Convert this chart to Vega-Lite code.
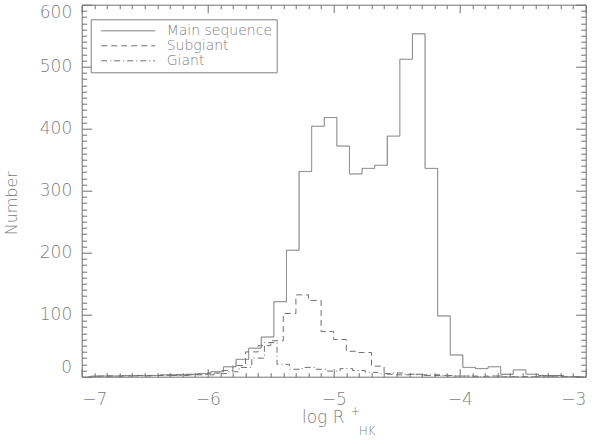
{
  "$schema": "https://vega.github.io/schema/vega-lite/v6.json",
  "width": 504,
  "height": 372,
  "autosize": {"type": "none"},
  "padding": {"left": 81.7, "top": 4.7, "right": 14.3, "bottom": 67.3},
  "background": "white",
  "config": {
    "view": {"stroke": "#707070", "strokeWidth": 1},
    "axis": {
      "domain": false, "grid": false, "labelOverlap": false,
      "labelFont": "DejaVu Sans", "titleFont": "DejaVu Sans",
      "labelColor": "#808080", "titleColor": "#808080", "tickColor": "#707070",
      "labelFontWeight": 200, "titleFontWeight": 200, "tickWidth": 1
    }
  },
  "data": {"values": [
    {"s":"Main sequence","x":-6.925,"n":1},{"s":"Main sequence","x":-6.825,"n":1},{"s":"Main sequence","x":-6.725,"n":1},{"s":"Main sequence","x":-6.625,"n":2},{"s":"Main sequence","x":-6.525,"n":2},{"s":"Main sequence","x":-6.425,"n":2},{"s":"Main sequence","x":-6.325,"n":3},{"s":"Main sequence","x":-6.225,"n":3},{"s":"Main sequence","x":-6.125,"n":4},{"s":"Main sequence","x":-6.025,"n":5},
    {"s":"Main sequence","x":-5.925,"n":8},{"s":"Main sequence","x":-5.825,"n":16},{"s":"Main sequence","x":-5.725,"n":28},{"s":"Main sequence","x":-5.625,"n":46},{"s":"Main sequence","x":-5.525,"n":64},{"s":"Main sequence","x":-5.425,"n":121},{"s":"Main sequence","x":-5.325,"n":204},{"s":"Main sequence","x":-5.225,"n":331},{"s":"Main sequence","x":-5.125,"n":404},{"s":"Main sequence","x":-5.025,"n":418},
    {"s":"Main sequence","x":-4.925,"n":372},{"s":"Main sequence","x":-4.825,"n":327},{"s":"Main sequence","x":-4.725,"n":336},{"s":"Main sequence","x":-4.625,"n":341},{"s":"Main sequence","x":-4.525,"n":388},{"s":"Main sequence","x":-4.425,"n":512},{"s":"Main sequence","x":-4.325,"n":553},{"s":"Main sequence","x":-4.225,"n":336},{"s":"Main sequence","x":-4.125,"n":98},{"s":"Main sequence","x":-4.025,"n":35},
    {"s":"Main sequence","x":-3.925,"n":15},{"s":"Main sequence","x":-3.825,"n":13},{"s":"Main sequence","x":-3.725,"n":16},{"s":"Main sequence","x":-3.625,"n":4},{"s":"Main sequence","x":-3.525,"n":11},{"s":"Main sequence","x":-3.425,"n":4},{"s":"Main sequence","x":-3.325,"n":2},{"s":"Main sequence","x":-3.225,"n":2},{"s":"Main sequence","x":-3.125,"n":0},{"s":"Main sequence","x":-3.025,"n":0},
    {"s":"Subgiant","x":-6.95,"n":0},{"s":"Subgiant","x":-6.85,"n":1},{"s":"Subgiant","x":-6.75,"n":1},{"s":"Subgiant","x":-6.65,"n":1},{"s":"Subgiant","x":-6.55,"n":2},{"s":"Subgiant","x":-6.45,"n":2},{"s":"Subgiant","x":-6.35,"n":2},{"s":"Subgiant","x":-6.25,"n":3},{"s":"Subgiant","x":-6.15,"n":3},{"s":"Subgiant","x":-6.05,"n":4},
    {"s":"Subgiant","x":-5.95,"n":6},{"s":"Subgiant","x":-5.85,"n":10},{"s":"Subgiant","x":-5.75,"n":18},{"s":"Subgiant","x":-5.65,"n":40},{"s":"Subgiant","x":-5.55,"n":50},{"s":"Subgiant","x":-5.45,"n":58},{"s":"Subgiant","x":-5.35,"n":102},{"s":"Subgiant","x":-5.25,"n":132},{"s":"Subgiant","x":-5.15,"n":123},{"s":"Subgiant","x":-5.05,"n":73},
    {"s":"Subgiant","x":-4.95,"n":60},{"s":"Subgiant","x":-4.85,"n":41},{"s":"Subgiant","x":-4.75,"n":39},{"s":"Subgiant","x":-4.65,"n":17},{"s":"Subgiant","x":-4.55,"n":4},{"s":"Subgiant","x":-4.45,"n":3},{"s":"Subgiant","x":-4.35,"n":4},{"s":"Subgiant","x":-4.25,"n":2},{"s":"Subgiant","x":-4.15,"n":2},{"s":"Subgiant","x":-4.05,"n":1},
    {"s":"Subgiant","x":-3.95,"n":1},{"s":"Subgiant","x":-3.85,"n":0},{"s":"Subgiant","x":-3.75,"n":1},{"s":"Subgiant","x":-3.65,"n":0},{"s":"Subgiant","x":-3.55,"n":0},{"s":"Subgiant","x":-3.45,"n":0},{"s":"Subgiant","x":-3.35,"n":0},{"s":"Subgiant","x":-3.25,"n":0},{"s":"Subgiant","x":-3.15,"n":0},{"s":"Subgiant","x":-3.05,"n":0},
    {"s":"Giant","x":-6.9,"n":0},{"s":"Giant","x":-6.8,"n":1},{"s":"Giant","x":-6.7,"n":1},{"s":"Giant","x":-6.6,"n":1},{"s":"Giant","x":-6.5,"n":1},{"s":"Giant","x":-6.4,"n":2},{"s":"Giant","x":-6.3,"n":2},{"s":"Giant","x":-6.2,"n":2},{"s":"Giant","x":-6.1,"n":3},{"s":"Giant","x":-6.0,"n":3},
    {"s":"Giant","x":-5.9,"n":5},{"s":"Giant","x":-5.8,"n":8},{"s":"Giant","x":-5.7,"n":15},{"s":"Giant","x":-5.6,"n":30},{"s":"Giant","x":-5.5,"n":55},{"s":"Giant","x":-5.4,"n":20},{"s":"Giant","x":-5.3,"n":12},{"s":"Giant","x":-5.2,"n":15},{"s":"Giant","x":-5.1,"n":12},{"s":"Giant","x":-5.0,"n":9},
    {"s":"Giant","x":-4.9,"n":13},{"s":"Giant","x":-4.8,"n":10},{"s":"Giant","x":-4.7,"n":7},{"s":"Giant","x":-4.6,"n":5},{"s":"Giant","x":-4.5,"n":6},{"s":"Giant","x":-4.4,"n":4},{"s":"Giant","x":-4.3,"n":3},{"s":"Giant","x":-4.2,"n":3},{"s":"Giant","x":-4.1,"n":2},{"s":"Giant","x":-4.0,"n":1},
    {"s":"Giant","x":-3.9,"n":1},{"s":"Giant","x":-3.8,"n":0},{"s":"Giant","x":-3.7,"n":1},{"s":"Giant","x":-3.6,"n":0},{"s":"Giant","x":-3.5,"n":0},{"s":"Giant","x":-3.4,"n":0},{"s":"Giant","x":-3.3,"n":0},{"s":"Giant","x":-3.2,"n":0},{"s":"Giant","x":-3.1,"n":0},{"s":"Giant","x":-3.0,"n":0}
  ]},
  "layer": [
    {
      "mark": {"type": "line", "interpolate": "step", "clip": true, "color": "#707070", "strokeWidth": 1},
      "encoding": {
        "x": {"field": "x", "type": "quantitative", "scale": {"domain": [-7, -3], "nice": false, "zero": false},
          "axis": {"orient": "bottom", "ticks": false, "values": [-7, -6, -5, -4, -3], "labelPadding": 15, "labelFontSize": 17,
            "title": "log R", "titleFontSize": 17, "titleX": 241, "titleY": 41, "titleAlign": "center", "titleBaseline": "middle"}},
        "y": {"field": "n", "type": "quantitative", "scale": {"domain": [0, 600], "nice": false},
          "axis": {"orient": "left", "ticks": false, "values": [0, 100, 200, 300, 400, 500, 600], "labelPadding": 10, "labelFlush": true, "labelFontSize": 17,
            "title": "Number", "titleFontSize": 16, "titleX": -70, "titleY": 198, "titleAngle": -90, "titleAlign": "center", "titleBaseline": "middle"}},
        "strokeDash": {"field": "s", "type": "nominal",
          "scale": {"domain": ["Main sequence", "Subgiant", "Giant"], "range": [[1, 0], [6, 4], [6, 3, 1, 3]]},
          "legend": {"title": null, "orient": "none", "legendX": 9, "legendY": 14.6, "strokeColor": "#808080", "padding": 4,
            "symbolType": "M-4,0H4", "symbolSize": 182, "symbolStrokeColor": "#707070", "symbolStrokeWidth": 1, "symbolFillColor": "transparent",
            "symbolOffset": 26, "labelOffset": 31, "rowPadding": 0,
            "labelFont": "DejaVu Sans", "labelFontSize": 14, "labelColor": "#808080", "labelFontWeight": 200, "fillColor": "white"}}
      }
    },
    {
      "mark": {"type": "point", "opacity": 0},
      "encoding": {
        "x": {"field": "x", "type": "quantitative", "scale": {"domain": [-7, -3], "nice": false, "zero": false},
          "axis": {"orient": "bottom", "labels": false, "tickSize": -8, "values": [-7, -6, -5, -4, -3],
            "title": "+", "titleFontSize": 12, "titleX": 273, "titleY": 34, "titleAlign": "center", "titleBaseline": "middle"}},
        "y": {"field": "n", "type": "quantitative", "scale": {"domain": [0, 600], "nice": false},
          "axis": {"orient": "left", "labels": false, "tickSize": -10, "values": [0, 100, 200, 300, 400, 500, 600], "title": null}}
      }
    },
    {
      "mark": {"type": "point", "opacity": 0},
      "encoding": {
        "x": {"field": "x", "type": "quantitative", "scale": {"domain": [-7, -3], "nice": false, "zero": false},
          "axis": {"orient": "bottom", "labels": false, "tickSize": -4,
            "values": [-6.9,-6.8,-6.7,-6.6,-6.5,-6.4,-6.3,-6.2,-6.1,-5.9,-5.8,-5.7,-5.6,-5.5,-5.4,-5.3,-5.2,-5.1,-4.9,-4.8,-4.7,-4.6,-4.5,-4.4,-4.3,-4.2,-4.1,-3.9,-3.8,-3.7,-3.6,-3.5,-3.4,-3.3,-3.2,-3.1],
            "title": "HK", "titleFontSize": 12, "titleX": 285, "titleY": 54, "titleAlign": "center", "titleBaseline": "middle"}},
        "y": {"field": "n", "type": "quantitative", "scale": {"domain": [0, 600], "nice": false},
          "axis": {"orient": "left", "labels": false, "tickSize": -5,
            "values": [10,20,30,40,50,60,70,80,90,110,120,130,140,150,160,170,180,190,210,220,230,240,250,260,270,280,290,310,320,330,340,350,360,370,380,390,410,420,430,440,450,460,470,480,490,510,520,530,540,550,560,570,580,590], "title": null}}
      }
    },
    {
      "mark": {"type": "point", "opacity": 0},
      "encoding": {
        "x": {"field": "x", "type": "quantitative", "scale": {"domain": [-7, -3], "nice": false, "zero": false},
          "axis": {"orient": "top", "labels": false, "tickSize": -8, "values": [-7, -6, -5, -4, -3], "title": null}},
        "y": {"field": "n", "type": "quantitative", "scale": {"domain": [0, 600], "nice": false},
          "axis": {"orient": "right", "labels": false, "tickSize": -10, "values": [0, 100, 200, 300, 400, 500, 600], "title": null}}
      }
    },
    {
      "mark": {"type": "point", "opacity": 0},
      "encoding": {
        "x": {"field": "x", "type": "quantitative", "scale": {"domain": [-7, -3], "nice": false, "zero": false},
          "axis": {"orient": "top", "labels": false, "tickSize": -4,
            "values": [-6.9,-6.8,-6.7,-6.6,-6.5,-6.4,-6.3,-6.2,-6.1,-5.9,-5.8,-5.7,-5.6,-5.5,-5.4,-5.3,-5.2,-5.1,-4.9,-4.8,-4.7,-4.6,-4.5,-4.4,-4.3,-4.2,-4.1,-3.9,-3.8,-3.7,-3.6,-3.5,-3.4,-3.3,-3.2,-3.1], "title": null}},
        "y": {"field": "n", "type": "quantitative", "scale": {"domain": [0, 600], "nice": false},
          "axis": {"orient": "right", "labels": false, "tickSize": -5,
            "values": [10,20,30,40,50,60,70,80,90,110,120,130,140,150,160,170,180,190,210,220,230,240,250,260,270,280,290,310,320,330,340,350,360,370,380,390,410,420,430,440,450,460,470,480,490,510,520,530,540,550,560,570,580,590], "title": null}}
      }
    }
  ],
  "resolve": {"axis": {"x": "independent", "y": "independent"}}
}
